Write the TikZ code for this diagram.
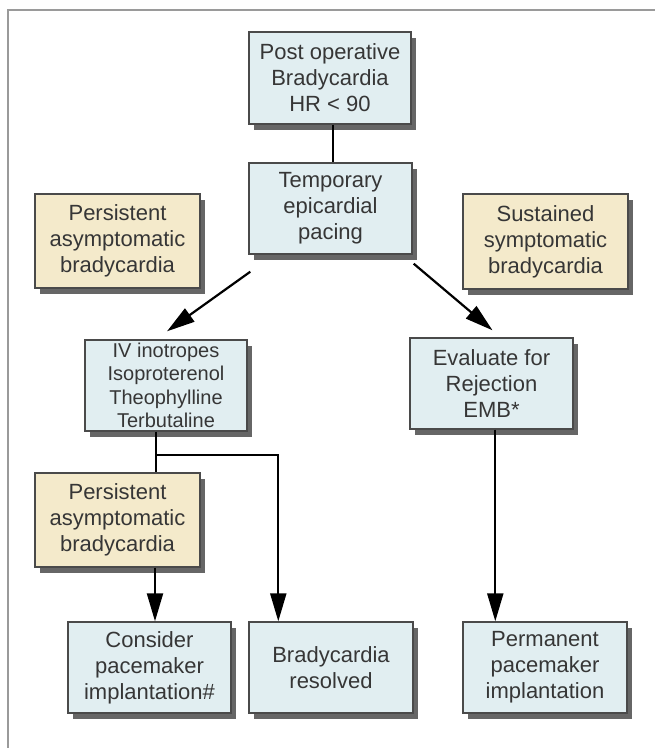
\documentclass[tikz,border=0pt]{standalone}
\usepackage{fontspec}
\setmainfont{Liberation Sans}
\usetikzlibrary{arrows.meta,shadows,calc}
\definecolor{boxblue}{HTML}{E1EEF1}
\definecolor{boxtan}{HTML}{F4EACB}
\definecolor{boxline}{HTML}{4A4A4A}
\definecolor{txt}{HTML}{363636}
\definecolor{framegray}{HTML}{9A9A9A}
\tikzset{
  basebox/.style={rectangle, draw=boxline, line width=1.4pt, inner sep=0pt,
    text=txt, align=center, font=\fontsize{22}{26}\selectfont,
    drop shadow={shadow xshift=5pt, shadow yshift=-6pt, fill=black!70, opacity=0.85}},
  bluebox/.style={basebox, fill=boxblue},
  tanbox/.style={basebox, fill=boxtan, drop shadow={shadow xshift=0pt, shadow yshift=0pt, opacity=0}},
  conn/.style={draw=black, line width=2.2pt},
  arr/.style={conn, -{Triangle[length=28pt,width=16pt]}}
}
\begin{document}
\begin{tikzpicture}[x=1pt,y=-1pt]
\useasboundingbox (0,0) rectangle (655,748);
\fill[white] (0,0) rectangle (655,748);
\draw[framegray, line width=2pt] (8,748) -- (8,10) -- (655,10);

\node[bluebox, minimum width=162pt, minimum height=92pt] (post) at (330,78) {Post operative\\Bradycardia\\HR < 90};
\node[bluebox, minimum width=163pt, minimum height=91pt] (temp) at (330.5,208.5) {Temporary\\epicardial\\pacing};
\node[tanbox, minimum width=165pt, minimum height=94pt] (pers1) at (117.5,241) {Persistent\\asymptomatic\\bradycardia};
\node[tanbox, minimum width=165pt, minimum height=95pt] (sust) at (545.5,241.5) {Sustained\\symptomatic\\bradycardia};
\node[bluebox, minimum width=162pt, minimum height=91pt, font=\fontsize{20}{23.5}\selectfont] (iv) at (166,385.5) {IV inotropes\\Isoproterenol\\Theophylline\\Terbutaline};
\node[bluebox, minimum width=163pt, minimum height=91pt] (eval) at (491.5,383.5) {Evaluate for\\Rejection\\EMB*};
\node[tanbox, minimum width=165pt, minimum height=94pt] (pers2) at (117.5,520) {Persistent\\asymptomatic\\bradycardia};
\node[bluebox, minimum width=163pt, minimum height=91pt] (cons) at (149.5,667.5) {Consider\\pacemaker\\implantation\#};
\node[bluebox, minimum width=164pt, minimum height=91pt] (res) at (331,667.5) {Bradycardia\\resolved};
\node[bluebox, minimum width=164pt, minimum height=91pt] (perm) at (545,667.5) {Permanent\\pacemaker\\implantation};

\draw[conn] ($(post.south)+(3,0)$) -- ($(temp.north)+(2.5,0)$);
\draw[arr] ($(temp.south west)+(2,17)$) -- ($(iv.north)+(1,-8)$);
\draw[arr] ($(temp.south east)+(1,9)$) -- ($(eval.north)+(1,-7)$);

\coordinate (j) at ($(iv.south)+(-10,23)$);
\draw[conn] ($(iv.south)+(-10,0)$) -- (j) -- (j |- pers2.north);
\draw[arr] (j) -| ($(res.north west)+(30,0)$);
\draw[arr] ($(pers2.south)+(37.5,0)$) -- ($(cons.north)+(5.5,0)$);
\coordinate (pin) at ($(perm.north west)+(33,0)$);
\draw[arr] (pin |- eval.south) -- (pin);
\end{tikzpicture}
\end{document}
